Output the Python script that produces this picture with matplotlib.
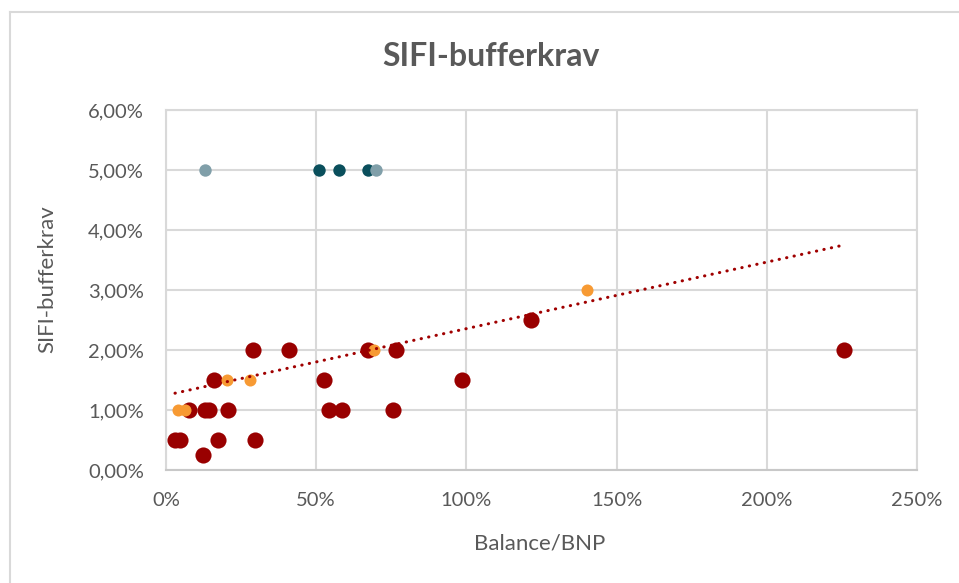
import matplotlib
matplotlib.use("Agg")
import matplotlib.pyplot as plt
from matplotlib.lines import Line2D
from matplotlib.ticker import FuncFormatter, MultipleLocator

plt.rcParams['font.family'] = ['Lato', 'DejaVu Sans']

# SIFI-buffer vs balance/BNP (fractions)
red_x = [0.291, 0.411, 0.16, 0.078, 0.13, 0.143, 0.208, 0.031, 0.045, 0.172,
         0.297, 0.124, 0.527, 0.542, 0.587, 0.671, 0.767, 0.754, 0.986, 1.216, 2.258]
red_y = [0.02, 0.02, 0.015, 0.01, 0.01, 0.01, 0.01, 0.005, 0.005, 0.005,
         0.005, 0.0025, 0.015, 0.01, 0.01, 0.02, 0.02, 0.01, 0.015, 0.025, 0.02]

orange_x = [0.04, 0.063, 0.202, 0.278, 0.693, 1.40]
orange_y = [0.01, 0.01, 0.015, 0.015, 0.02, 0.03]

teal_x = [0.51, 0.577, 0.674]
teal_y = [0.05, 0.05, 0.05]

grey_x = [0.13, 0.70]
grey_y = [0.05, 0.05]

# dotted trendline end points as drawn in the chart
trend_x = [0.03, 2.257]
trend_y = [0.0128, 0.0375]

txt = '#595959'
grid = '#d9d9d9'

fig = plt.figure(figsize=(9.59, 5.83), dpi=100)
ax = fig.add_axes([166/959, 1-470/583, 751/959, 360/583])

ax.scatter(red_x, red_y, s=135, color='#990000', linewidths=0, zorder=3)
ax.scatter(orange_x, orange_y, s=75, color='#f79a33', linewidths=0, zorder=4)
ax.scatter(teal_x, teal_y, s=80, color='#0a4f5c', linewidths=0, zorder=4)
ax.scatter(grey_x, grey_y, s=80, color='#809fa9', linewidths=0, zorder=5)
ax.plot(trend_x, trend_y, color='#a00000', lw=2.2, linestyle=(0, (0.1, 2.4)),
        dash_capstyle='round', zorder=6)

ax.set_xlim(0, 2.5)
ax.set_ylim(0, 0.06)
ax.xaxis.set_major_locator(MultipleLocator(0.5))
ax.yaxis.set_major_locator(MultipleLocator(0.01))
ax.xaxis.set_major_formatter(FuncFormatter(lambda v, p: f"{v*100:.0f}%"))
ax.yaxis.set_major_formatter(FuncFormatter(lambda v, p: f"{v*100:.2f}%".replace('.', ',')))
ax.grid(True, color=grid, lw=1.5, zorder=0)
ax.set_axisbelow(True)
for s in ax.spines.values():
    s.set_color(grid)
    s.set_linewidth(1.5)
ax.spines['bottom'].set_color('#c8c8c8')
ax.tick_params(length=0, labelsize=14.5, labelcolor=txt, pad=16)

ax.set_xlabel('Balance/BNP', fontsize=16, color=txt)
ax.set_ylabel('SIFI-bufferkrav', fontsize=16, color=txt)
ax.xaxis.set_label_coords(0.498, -0.203)
ax.xaxis.label.set_va('center')
ax.yaxis.set_label_coords(-0.158, 0.53)
ax.yaxis.label.set_va('center')
fig.text(0.512, 1-57/583, 'SIFI-bufferkrav', fontsize=23, fontweight='bold',
         color=txt, ha='center', va='center')

# outer chart frame
fig.add_artist(Line2D([10/959, 1], [1-12/583, 1-12/583], color=grid, lw=1.5))
fig.add_artist(Line2D([10/959, 10/959], [0, 1-12/583], color=grid, lw=1.5))

fig.savefig('out.png', dpi=100)
